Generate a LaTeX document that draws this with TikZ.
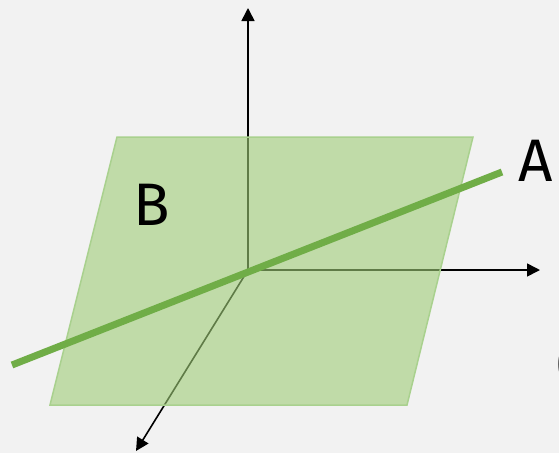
\documentclass[tikz,border=0pt]{standalone}
\usepackage{fontspec}
\setmainfont{Fira Sans}
\usetikzlibrary{arrows.meta}
\definecolor{bgc}{RGB}{242,242,242}
\definecolor{planefill}{RGB}{159,205,119}
\definecolor{planedraw}{RGB}{169,209,142}
\definecolor{linegreen}{RGB}{112,173,71}
\begin{document}
\begin{tikzpicture}[x=1pt,y=-1pt,
  axis/.style={line width=1.6pt,-{Triangle[length=13pt,width=13pt]}},
  plane/.style={fill=planefill,fill opacity=0.6,draw=planedraw,line width=1.5pt},
  gline/.style={draw=linegreen,line width=7pt},
  lbl/.style={font=\fontsize{60}{60}\selectfont,inner sep=0pt}]
\fill[bgc] (0,0) rectangle (559,453);
\useasboundingbox (0,0) rectangle (559,453);
\coordinate (o) at (248,270);
\coordinate (zt) at (248,8);
\coordinate (xt) at (540,270);
\coordinate (yt) at (136,451);
\draw[axis] (o) -- (zt);
\draw[axis] (o) -- (xt);
\draw[axis] (o) -- (yt);
\path[plane] (117,137) coordinate (p1) -- (473,137) coordinate (p2) -- (407,405) coordinate (p3) -- (50,405) coordinate (p4) -- cycle;
\coordinate (l1) at (12,365);
\coordinate (l2) at (502,172);
\draw[gline] (l1) -- (l2);
\node[lbl] (A) at (536,161) {A};
\node[lbl] (B) at (152,205) {B};
\node[lbl,anchor=west] (P) at (556,364) {(};
\end{tikzpicture}
\end{document}
